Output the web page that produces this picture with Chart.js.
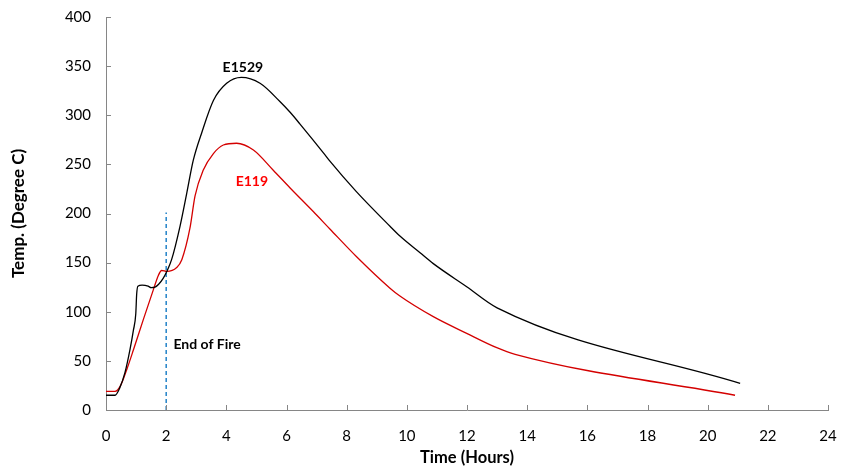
<!DOCTYPE html>
<html>
<head>
<meta charset="utf-8">
<script src="https://cdn.jsdelivr.net/npm/chart.js@4/dist/chart.umd.min.js"></script>
<style>
  html, body { margin: 0; padding: 0; background: #fff; }
  #wrap { width: 843px; height: 472px; }
</style>
</head>
<body>
<div id="wrap"><canvas id="chart"></canvas></div>
<script>
// E1529 curve (hours, deg C)
const e1529Hours = [0, 0.3, 0.45, 0.63, 0.8, 0.91, 0.99, 1.02, 1.06, 1.2, 1.4, 1.5, 1.63, 1.75, 1.9, 2.02, 2.18, 2.46, 2.68, 2.9, 3.18, 3.57, 4.01, 4.5, 5.12, 5.78, 6.12, 6.45, 7.22, 7.45, 8.33, 9.44, 9.77, 10.44, 10.88, 11.99, 13.0, 21.08];
const e1529Temp  = [15, 15, 22, 38, 62, 81, 98, 118, 126, 127, 126, 124.5, 125, 128, 134, 141, 153, 187, 220, 254, 282, 315, 332.5, 338.5, 332.5, 314, 303, 291, 262, 253, 222, 187, 177, 160, 149, 125.5, 104, 27];

// E119 curve
const e119Hours = [0, 0.3, 0.47, 0.7, 0.91, 1.24, 1.57, 1.74, 1.85, 2.02, 2.35, 2.52, 2.79, 2.96, 3.23, 3.57, 3.9, 4.34, 4.9, 5.56, 6.12, 6.89, 7.45, 8.33, 9.44, 9.77, 10.88, 11.99, 12.99, 13.6, 20.91];
const e119Temp  = [19, 19, 24, 42, 61, 92, 122, 137, 142, 141, 145, 153, 185, 218, 244, 261, 269.7, 271.5, 264.6, 244, 226, 202, 184, 156, 124, 116, 95, 78, 63.4, 56.7, 15];

// End of fire marker
const fireHours = [2, 2];
const fireTemp = [0, 201];

const xTicks = [0, 2, 4, 6, 8, 10, 12, 14, 16, 18, 20, 22, 24];
const yTicks = [0, 50, 100, 150, 200, 250, 300, 350, 400];

const labels = [
  { text: "E1529", x: 4.55, y: 349, color: "#000" },
  { text: "E119", x: 4.85, y: 233, color: "#ff0000" },
  { text: "End of Fire", x: 3.36, y: 67, color: "#000" }
];

function pts(xs, ys) { return xs.map((x, i) => ({ x: x, y: ys[i] })); }

const FONT = "Lato, 'Open Sans', sans-serif";
const AXIS = "#868686";

const innerTicks = {
  id: "innerTicks",
  afterDraw(chart) {
    const ctx = chart.ctx, x = chart.scales.x, y = chart.scales.y;
    const a = chart.chartArea;
    ctx.save();
    ctx.strokeStyle = AXIS;
    ctx.lineWidth = 1;
    ctx.beginPath();
    xTicks.forEach(v => {
      const px = Math.round(x.getPixelForValue(v)) + 0.5;
      ctx.moveTo(px, a.bottom); ctx.lineTo(px, a.bottom - 5);
    });
    yTicks.forEach(v => {
      const py = Math.round(y.getPixelForValue(v)) + 0.5;
      ctx.moveTo(a.left, py); ctx.lineTo(a.left + 5, py);
    });
    ctx.stroke();
    ctx.font = "bold 14px " + FONT;
    ctx.textAlign = "center";
    ctx.textBaseline = "middle";
    labels.forEach(l => {
      ctx.fillStyle = l.color;
      ctx.fillText(l.text, x.getPixelForValue(l.x), y.getPixelForValue(l.y));
    });
    ctx.restore();
  }
};

new Chart(document.getElementById("chart"), {
  type: "scatter",
  data: {
    datasets: [
      {
        data: pts(e1529Hours, e1529Temp),
        showLine: true, borderColor: "#000", borderWidth: 1.3,
        pointRadius: 0, cubicInterpolationMode: "monotone"
      },
      {
        data: pts(e119Hours, e119Temp),
        showLine: true, borderColor: "#d40000", borderWidth: 1.3,
        pointRadius: 0, cubicInterpolationMode: "monotone"
      },
      {
        data: pts(fireHours, fireTemp),
        showLine: true, borderColor: "#0070c0", borderWidth: 1.3,
        borderDash: [4, 3], pointRadius: 0
      }
    ]
  },
  options: {
    responsive: true,
    maintainAspectRatio: false,
    animation: false,
    layout: { padding: { top: 17, right: 15, left: 4, bottom: 0 } },
    plugins: { legend: { display: false }, tooltip: { enabled: false } },
    scales: {
      x: {
        type: "linear", min: 0, max: 24,
        afterBuildTicks: s => { s.ticks = xTicks.map(v => ({ value: v })); },
        afterFit: s => { s.height = 62; s.paddingLeft = 0; s.paddingRight = 0; },
        grid: { display: false, drawTicks: false },
        border: { color: AXIS },
        ticks: { color: "#000", font: { family: FONT, size: 15 }, padding: 17, maxRotation: 0 },
        title: { display: true, text: "Time (Hours)", color: "#000", font: { family: FONT, size: 16.5, weight: "bold" }, padding: { top: 4 } }
      },
      y: {
        min: 0, max: 400,
        afterBuildTicks: s => { s.ticks = yTicks.map(v => ({ value: v })); },
        afterFit: s => { s.width = 102; s.paddingTop = 0; s.paddingBottom = 0; },
        grid: { display: false, drawTicks: false },
        border: { color: AXIS },
        ticks: { color: "#000", font: { family: FONT, size: 15 }, padding: 15 },
        title: { display: true, text: "Temp. (Degree C)", color: "#000", font: { family: FONT, size: 17, weight: "bold" }, padding: { bottom: 0 } }
      }
    }
  },
  plugins: [innerTicks]
});
</script>
</body>
</html>
